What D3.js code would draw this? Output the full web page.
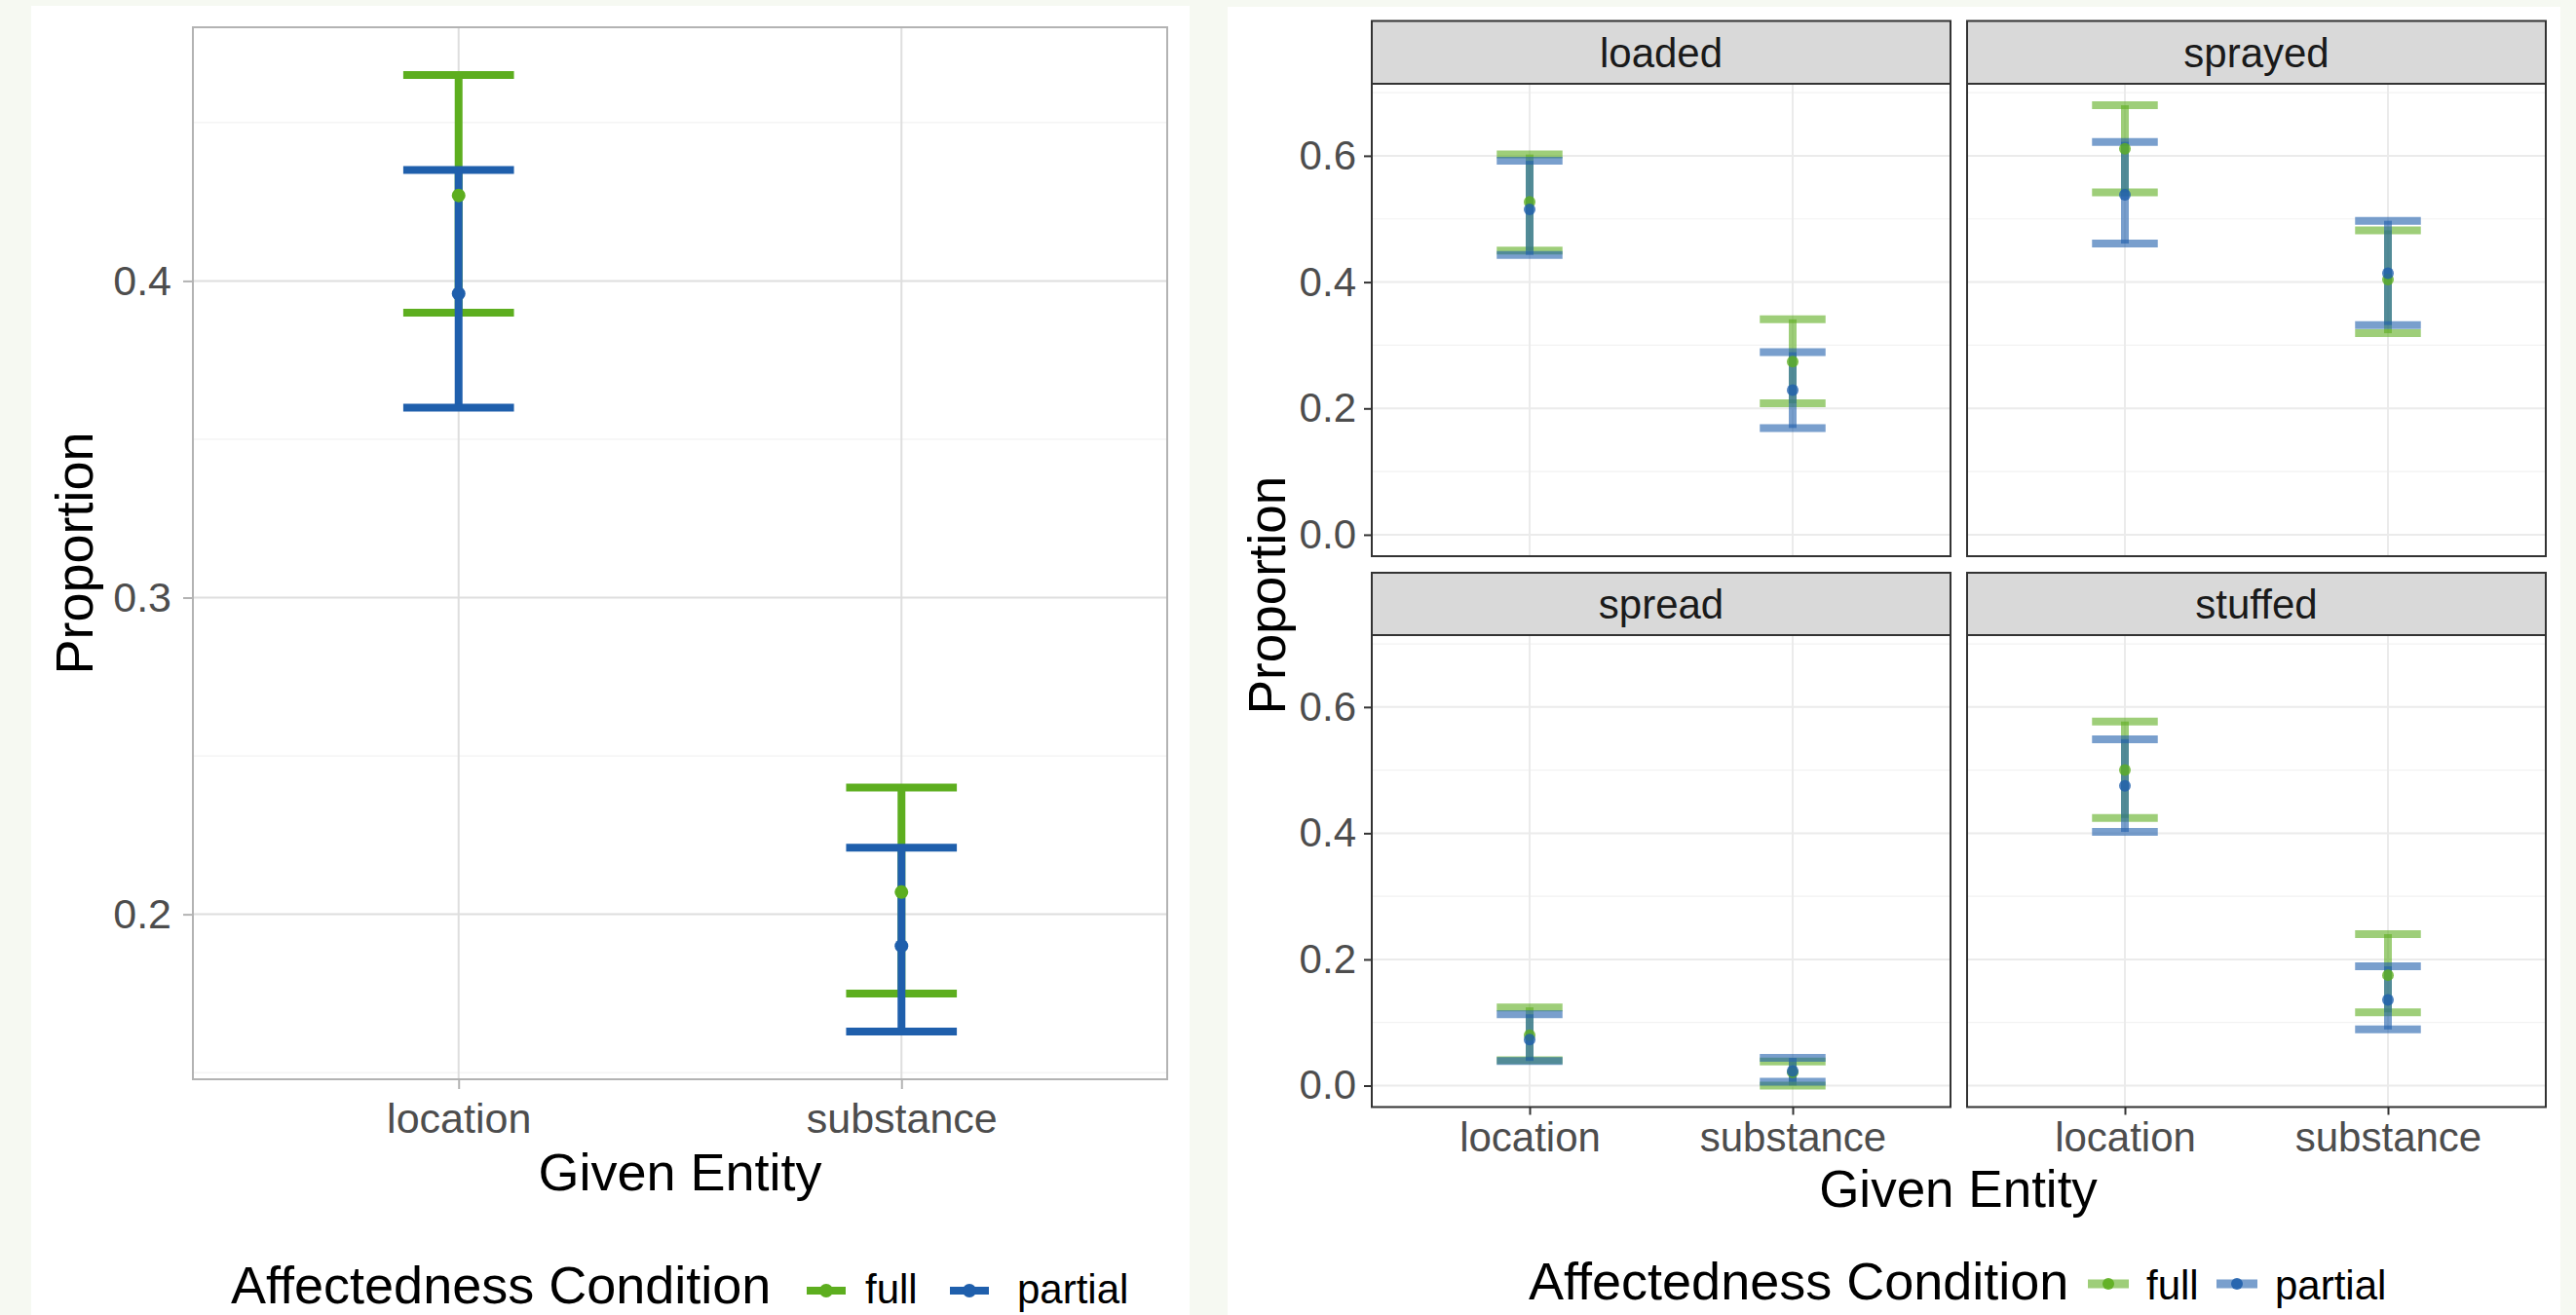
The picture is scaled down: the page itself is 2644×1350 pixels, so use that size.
<!DOCTYPE html>
<html><head><meta charset="utf-8">
<script src="https://cdn.jsdelivr.net/npm/d3@7"></script>
<style>
body{margin:0;background:#f6f9f2;}
svg{display:block;font-family:"Liberation Sans",Arial,Helvetica,sans-serif;}
</style>
</head><body>
<svg id="chart" width="2644" height="1350"></svg>
<script>
// ---------------- data ----------------
const categories = ["location", "substance"];
const conditions = ["full", "partial"];
const conditionColors = ["#5dae1f", "#1f5fac"];

// overall (left chart)
const overallFullMean    = [0.427, 0.207];
const overallFullLower   = [0.390, 0.175];
const overallFullUpper   = [0.465, 0.240];
const overallPartialMean  = [0.396, 0.190];
const overallPartialLower = [0.360, 0.163];
const overallPartialUpper = [0.435, 0.221];

// by verb (right chart); each row: [location, substance]
const verbs = ["loaded", "sprayed", "spread", "stuffed"];
const verbFullMean     = [[0.527, 0.274], [0.611, 0.404], [0.080, 0.021], [0.500, 0.175]];
const verbFullLower    = [[0.450, 0.208], [0.542, 0.319], [0.040, 0.000], [0.424, 0.116]];
const verbFullUpper    = [[0.602, 0.341], [0.680, 0.482], [0.124, 0.038], [0.577, 0.240]];
const verbPartialMean  = [[0.515, 0.229], [0.538, 0.414], [0.073, 0.023], [0.475, 0.136]];
const verbPartialLower = [[0.443, 0.169], [0.461, 0.332], [0.039, 0.006], [0.402, 0.089]];
const verbPartialUpper = [[0.592, 0.289], [0.622, 0.497], [0.113, 0.044], [0.549, 0.189]];

const leftYTicks = [0.2, 0.3, 0.4];
const leftYTickLabels = ["0.2", "0.3", "0.4"];
const leftYMinor = [0.15, 0.25, 0.35, 0.45];
const rightYTicks = [0.0, 0.2, 0.4, 0.6];
const rightYTickLabels = ["0.0", "0.2", "0.4", "0.6"];
const rightYMinor = [0.1, 0.3, 0.5, 0.7];

const xTitle = "Given Entity";
const yTitle = "Proportion";
const legendTitle = "Affectedness Condition";

// ---------------- helpers ----------------
function rowsFrom(means, lows, highs) {
  const out = [];
  conditions.forEach((c, ci) => {
    categories.forEach((cat, k) => {
      out.push({cond: c, ci, cat, mean: means[ci][k], lo: lows[ci][k], hi: highs[ci][k]});
    });
  });
  return out;
}
function expandDomain(rowsList) {
  const all = [];
  rowsList.forEach(rs => rs.forEach(r => { all.push(r.lo, r.hi, r.mean); }));
  const [a, b] = d3.extent(all);
  const pad = (b - a) * 0.05;
  return [a - pad, b + pad];
}

const svg = d3.select("#chart");

function drawPanel(g, o) {
  const x = d3.scalePoint().domain(categories).range([o.x0, o.x1]).padding(0.6);
  const y = d3.scaleLinear().domain(o.yDomain).range([o.y1, o.y0]);
  const t = o.theme;
  g.append("rect").attr("x", o.x0).attr("y", o.y0).attr("width", o.x1 - o.x0).attr("height", o.y1 - o.y0)
    .attr("fill", "#ffffff");
  g.selectAll(null).data(o.minor).join("line")
    .attr("x1", o.x0).attr("x2", o.x1).attr("y1", d => y(d)).attr("y2", d => y(d))
    .attr("stroke", t.minorColor).attr("stroke-width", t.minorWidth);
  g.selectAll(null).data(o.ticks).join("line")
    .attr("x1", o.x0).attr("x2", o.x1).attr("y1", d => y(d)).attr("y2", d => y(d))
    .attr("stroke", t.gridColor).attr("stroke-width", t.gridWidth);
  g.selectAll(null).data(categories).join("line")
    .attr("x1", d => x(d)).attr("x2", d => x(d)).attr("y1", o.y0).attr("y2", o.y1)
    .attr("stroke", t.gridColor).attr("stroke-width", t.gridWidth);

  const half = x.step() * 0.125;
  const segs = [];
  o.rows.forEach(r => {
    const xc = x(r.cat);
    segs.push({ci: r.ci, x1: xc - half, x2: xc + half, y1: y(r.hi), y2: y(r.hi)});
    segs.push({ci: r.ci, x1: xc, x2: xc, y1: y(r.hi), y2: y(r.lo)});
    segs.push({ci: r.ci, x1: xc - half, x2: xc + half, y1: y(r.lo), y2: y(r.lo)});
  });
  g.selectAll(null).data(segs).join("line")
    .attr("x1", d => d.x1).attr("x2", d => d.x2).attr("y1", d => d.y1).attr("y2", d => d.y2)
    .attr("stroke", d => conditionColors[d.ci]).attr("stroke-width", o.lw)
    .attr("stroke-opacity", o.lineAlpha).attr("stroke-linecap", "butt");
  g.selectAll(null).data(o.rows).join("circle")
    .attr("cx", d => x(d.cat)).attr("cy", d => y(d.mean)).attr("r", o.r)
    .attr("fill", d => conditionColors[d.ci]).attr("fill-opacity", o.pointAlpha);

  g.append("rect").attr("x", o.x0).attr("y", o.y0).attr("width", o.x1 - o.x0).attr("height", o.y1 - o.y0)
    .attr("fill", "none").attr("stroke", t.borderColor).attr("stroke-width", t.borderWidth);

  if (o.showY) {
    const ax = g.append("g").attr("transform", `translate(${o.x0},0)`)
      .call(d3.axisLeft(y).tickValues(o.ticks).tickFormat((d, i) => o.tickLabels[i])
        .tickSize(t.tickLen).tickPadding(t.yPad));
    ax.select(".domain").remove();
    ax.selectAll(".tick line").attr("stroke", t.tickColor).attr("stroke-width", 2);
    ax.selectAll(".tick text").attr("fill", "#4d4d4d").attr("font-size", t.tickFont)
      .attr("font-family", "Liberation Sans, Arial, sans-serif");
  }
  if (o.showX) {
    const ax = g.append("g").attr("transform", `translate(0,${o.y1})`)
      .call(d3.axisBottom(x).tickSize(t.tickLen).tickPadding(t.xPad));
    ax.select(".domain").remove();
    ax.selectAll(".tick line").attr("stroke", t.tickColor).attr("stroke-width", 2);
    ax.selectAll(".tick text").attr("fill", "#4d4d4d").attr("font-size", t.tickFont)
      .attr("font-family", "Liberation Sans, Arial, sans-serif");
  }
  return {x, y};
}

function drawLegend(o) {
  const g = svg.append("g");
  g.append("text").attr("x", o.titleX).attr("y", o.baseline).attr("font-size", o.titleFont)
    .attr("fill", "#000").text(legendTitle);
  conditions.forEach((c, i) => {
    const kx = o.keyX[i];
    g.append("line").attr("x1", kx).attr("x2", kx + o.keyW).attr("y1", o.keyY).attr("y2", o.keyY)
      .attr("stroke", conditionColors[i]).attr("stroke-width", o.lw).attr("stroke-opacity", o.lineAlpha);
    g.append("circle").attr("cx", kx + o.keyW / 2).attr("cy", o.keyY).attr("r", o.r)
      .attr("fill", conditionColors[i]).attr("fill-opacity", o.pointAlpha);
    g.append("text").attr("x", o.labelX[i]).attr("y", o.baseline).attr("font-size", o.labelFont)
      .attr("fill", "#000").text(c);
  });
}

// ---------------- left chart ----------------
svg.append("rect").attr("x", 32).attr("y", 6).attr("width", 1189).attr("height", 1344).attr("fill", "#ffffff");
const leftRows = rowsFrom([overallFullMean, overallPartialMean], [overallFullLower, overallPartialLower],
  [overallFullUpper, overallPartialUpper]);
const leftTheme = {minorColor: "#efefef", minorWidth: 1, gridColor: "#dedede", gridWidth: 2,
  borderColor: "#b3b3b3", borderWidth: 2, tickColor: "#b3b3b3", tickLen: 10, yPad: 12, xPad: 14, tickFont: 43};
drawPanel(svg.append("g"), {x0: 198, x1: 1198, y0: 28, y1: 1108, yDomain: expandDomain([leftRows]),
  rows: leftRows, ticks: leftYTicks, tickLabels: leftYTickLabels, minor: leftYMinor, theme: leftTheme,
  lw: 8, r: 7, lineAlpha: 1, pointAlpha: 1, showX: true, showY: true});
svg.append("text").attr("x", 698).attr("y", 1222).attr("text-anchor", "middle").attr("font-size", 54)
  .attr("fill", "#000").text(xTitle);
svg.append("text").attr("transform", "translate(95,568) rotate(-90)").attr("text-anchor", "middle")
  .attr("font-size", 54).attr("fill", "#000").text(yTitle);
drawLegend({titleX: 237, baseline: 1338, titleFont: 54, labelFont: 42, keyX: [828, 975], keyW: 40,
  labelX: [888, 1044], keyY: 1325, lw: 8, r: 7, lineAlpha: 1, pointAlpha: 1});

// ---------------- right chart ----------------
svg.append("rect").attr("x", 1260).attr("y", 7).attr("width", 1368).attr("height", 1343).attr("fill", "#ffffff");
const verbRows = verbs.map((v, k) => rowsFrom(
  [verbFullMean[k], verbPartialMean[k]], [verbFullLower[k], verbPartialLower[k]],
  [verbFullUpper[k], verbPartialUpper[k]]));
const rightDomain = expandDomain(verbRows);
const rightTheme = {minorColor: "#f2f2f2", minorWidth: 1.2, gridColor: "#ebebeb", gridWidth: 2,
  borderColor: "#333333", borderWidth: 2, tickColor: "#333333", tickLen: 8, yPad: 8, xPad: 8, tickFont: 42};
const colX = [[1408, 2002], [2019, 2613]];
const rowY = [{s0: 21.5, s1: 86, p1: 571}, {s0: 588, s1: 652, p1: 1136.5}];
verbs.forEach((v, k) => {
  const ci = k % 2, ri = Math.floor(k / 2);
  const [x0, x1] = colX[ci];
  const R = rowY[ri];
  const g = svg.append("g");
  g.append("rect").attr("x", x0).attr("y", R.s0).attr("width", x1 - x0).attr("height", R.s1 - R.s0)
    .attr("fill", "#d9d9d9").attr("stroke", "#333333").attr("stroke-width", 2);
  g.append("text").attr("x", (x0 + x1) / 2).attr("y", (R.s0 + R.s1) / 2 + 15).attr("text-anchor", "middle")
    .attr("font-size", 42).attr("fill", "#1a1a1a").text(v);
  drawPanel(g, {x0, x1, y0: R.s1, y1: R.p1, yDomain: rightDomain, rows: verbRows[k], ticks: rightYTicks,
    tickLabels: rightYTickLabels, minor: rightYMinor, theme: rightTheme, lw: 8, r: 6,
    lineAlpha: 0.6, pointAlpha: 0.8, showX: ri === 1, showY: ci === 0});
});
svg.append("text").attr("x", 2010).attr("y", 1239).attr("text-anchor", "middle").attr("font-size", 53)
  .attr("fill", "#000").text(xTitle);
svg.append("text").attr("transform", "translate(1319,611) rotate(-90)").attr("text-anchor", "middle")
  .attr("font-size", 53).attr("fill", "#000").text(yTitle);
drawLegend({titleX: 1569, baseline: 1334, titleFont: 54, labelFont: 42, keyX: [2143, 2275], keyW: 42,
  labelX: [2203, 2335], keyY: 1318, lw: 9, r: 6, lineAlpha: 0.6, pointAlpha: 0.9});
</script>
</body></html>
